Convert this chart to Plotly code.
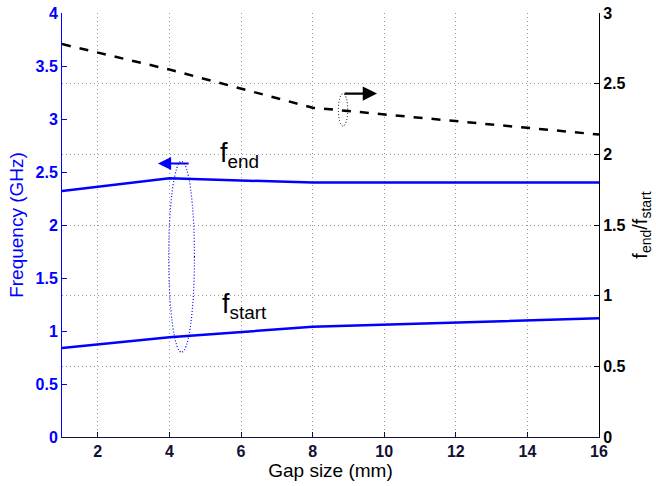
import plotly.graph_objects as go

gap = [1, 4, 8, 16]
f_end = [2.32, 2.44, 2.40, 2.40]
f_start = [0.84, 0.94, 1.04, 1.12]
ratio = [2.78, 2.60, 2.33, 2.14]

x_ticks = [2, 4, 6, 8, 10, 12, 14, 16]
left_ticks = [0, 0.5, 1, 1.5, 2, 2.5, 3, 3.5, 4]
right_ticks = [0, 0.5, 1, 1.5, 2, 2.5, 3]

BLUE = "#0000ff"
DARK = "#111133"
FONT = "Liberation Sans"
GRID = "#9a9a9a"
GDASH = "1px,3px"

fig = go.Figure()
fig.add_trace(go.Scatter(x=gap, y=f_end, mode="lines", line=dict(color=BLUE, width=2.5), showlegend=False))
fig.add_trace(go.Scatter(x=gap, y=f_start, mode="lines", line=dict(color=BLUE, width=2.5), showlegend=False))
fig.add_trace(go.Scatter(x=gap, y=ratio, mode="lines", yaxis="y2",
                         line=dict(color="black", width=2.5, dash="dash"), showlegend=False))

fig.update_layout(
    width=656, height=486,
    margin=dict(l=62, r=57, t=13, b=49),
    plot_bgcolor="white", paper_bgcolor="white",
    font=dict(family=FONT),
    xaxis=dict(range=[1, 16], tickvals=x_ticks, automargin=False,
               ticks="inside", ticklen=5, tickcolor=DARK,
               showline=True, linecolor=DARK, linewidth=1,
               showgrid=True, gridcolor=GRID, griddash=GDASH, gridwidth=1,
               zeroline=False,
               tickfont=dict(size=16, color=DARK, family=FONT, weight=700),
               title=dict(text="Gap size (mm)", font=dict(size=19, color="black"), standoff=2)),
    yaxis=dict(range=[0, 4], tickvals=left_ticks, automargin=False,
               ticks="inside", ticklen=5, tickcolor=BLUE,
               showline=True, linecolor=BLUE, linewidth=1, showgrid=False, zeroline=False,
               tickfont=dict(size=16, color=BLUE, family=FONT, weight=700),
               title=dict(text="Frequency (GHz)", font=dict(size=19, color=BLUE), standoff=6)),
    yaxis2=dict(range=[0, 3], tickvals=right_ticks, automargin=False,
                overlaying="y", side="right",
                ticks="inside", ticklen=5, tickcolor="black",
                showline=True, linecolor="black", linewidth=1,
                showgrid=True, gridcolor=GRID, griddash=GDASH, gridwidth=1, zeroline=False,
                tickfont=dict(size=16, color="black", family=FONT, weight=700),
                title=dict(text="f<sub>end</sub>/f<sub>start</sub>", font=dict(size=20, color="black"), standoff=8)),
)

# labels
fig.add_annotation(x=5.95, y=2.66, xref="x", yref="y", text="f<sub>end</sub>", showarrow=False,
                   font=dict(size=27, color="black"))
fig.add_annotation(x=6.1, y=1.24, xref="x", yref="y", text="f<sub>start</sub>", showarrow=False,
                   font=dict(size=27, color="black"))

# arrows
fig.add_annotation(x=3.68, y=2.58, ax=4.58, ay=2.58, xref="x", yref="y", axref="x", ayref="y",
                   text="", showarrow=True, arrowhead=2, arrowsize=1.2, arrowwidth=2.2, arrowcolor=BLUE)
fig.add_annotation(x=9.8, y=2.43, ax=8.85, ay=2.43, xref="x", yref="y2", axref="x", ayref="y2",
                   text="", showarrow=True, arrowhead=2, arrowsize=1.3, arrowwidth=2.2, arrowcolor="black")

# dotted ellipses
fig.add_shape(type="circle", xref="x", yref="y", x0=3.98, x1=4.7, y0=0.8, y1=2.6,
              line=dict(color=BLUE, width=1.2, dash="1px,2px"))
fig.add_shape(type="circle", xref="x", yref="y2", x0=8.72, x1=8.98, y0=2.2, y1=2.43,
              line=dict(color="black", width=1, dash="1px,2px"))

fig.write_html("out.html")
